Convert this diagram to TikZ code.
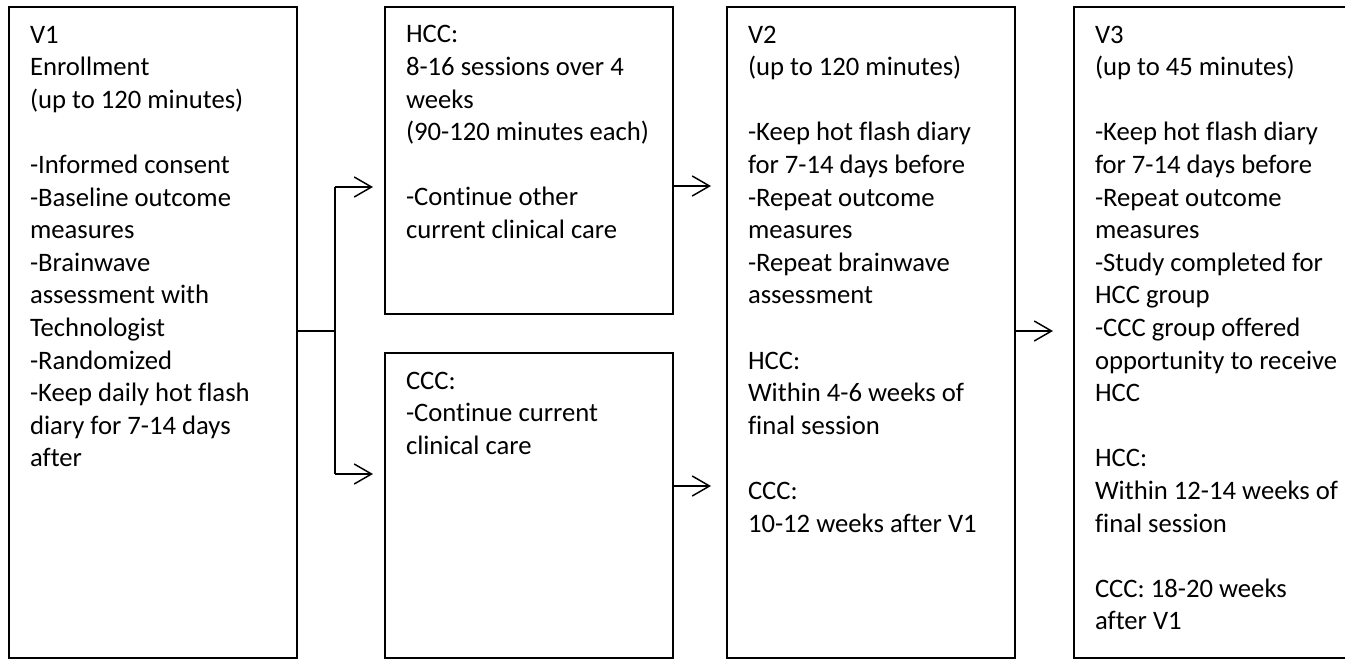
\documentclass[tikz,border=0pt]{standalone}
\usepackage{fontspec}
\setmainfont[Ligatures={NoCommon}]{Carlito}
\usetikzlibrary{arrows.meta}
\newcommand{\fl}{\rule{0pt}{20pt}}
\begin{document}
\begin{tikzpicture}[x=0.75pt,y=-0.75pt,
  box/.style={draw, line width=1.5pt, inner sep=0pt, outer sep=0pt, anchor=north west},
  txt/.style={anchor=north west, inner sep=0pt, outer sep=0pt, align=left,
              font=\fontsize{20pt}{24.45pt}\selectfont},
  conn/.style={line width=1.1pt},
  arr/.style={conn, -{Straight Barb[length=13pt,width=15pt]}}]
\useasboundingbox (0,0) rectangle (1345,660);

% boxes
\node[box, minimum width=216pt, minimum height=488.25pt] (v1) at (9,7) {};
\node[box, minimum width=216pt, minimum height=230.25pt] (hcc) at (385,7) {};
\node[box, minimum width=216pt, minimum height=228.75pt] (ccc) at (385,353) {};
\node[box, minimum width=216pt, minimum height=488.25pt] (v2) at (727,7) {};
\node[box, minimum width=208.5pt, minimum height=488.25pt] (v3) at (1074,7) {};

% texts
\node[txt] (v1t) at (30,16.33) {\fl V1\\
Enrollment\\
(up to 120 minutes)\\
~\\
-Informed consent\\
-Baseline outcome\\
measures\\
-Brainwave\\
assessment with\\
Technologist\\
-Randomized\\
-Keep daily hot flash\\
diary for 7-14 days\\
after};

\node[txt] (hcct) at (406,16.33) {\fl HCC:\\
8-16 sessions over 4\\
weeks\\
(90-120 minutes each)\\
~\\
-Continue other\\
current clinical care};

\node[txt] (ccct) at (406,362.33) {\fl CCC:\\
-Continue current\\
clinical care};

\node[txt] (v2t) at (748,16.33) {\fl V2\\
(up to 120 minutes)\\
~\\
-Keep hot flash diary\\
for 7-14 days before\\
-Repeat outcome\\
measures\\
-Repeat brainwave\\
assessment\\
~\\
HCC:\\
Within 4-6 weeks of\\
final session\\
~\\
CCC:\\
10-12 weeks after V1};

\node[txt] (v3t) at (1095,16.33) {\fl V3\\
(up to 45 minutes)\\
~\\
-Keep hot flash diary\\
for 7-14 days before\\
-Repeat outcome\\
measures\\
-Study completed for\\
HCC group\\
-CCC group offered\\
opportunity to receive\\
HCC\\
~\\
HCC:\\
Within 12-14 weeks of\\
final session\\
~\\
CCC: 18-20 weeks\\
after V1};

% connectors
\coordinate (jt) at (335,187);
\coordinate (jb) at (335,474);
\draw[conn] (v1.east |- 0,331) -- (jt |- 0,331);
\draw[conn] (jt) -- (jb);
\draw[arr, shorten >=9pt] (jt) -- (jt -| hcc.west);
\draw[arr, shorten >=9pt] (jb) -- (jb -| ccc.west);
\draw[arr, shorten >=12pt] (hcc.east |- 0,186) -- (v2.west |- 0,186);
\draw[arr, shorten >=12pt] (ccc.east |- 0,486) -- (v2.west |- 0,486);
\draw[arr, shorten >=15.75pt] (v2.east |- 0,331) -- (v3.west |- 0,331);
\end{tikzpicture}
\end{document}
